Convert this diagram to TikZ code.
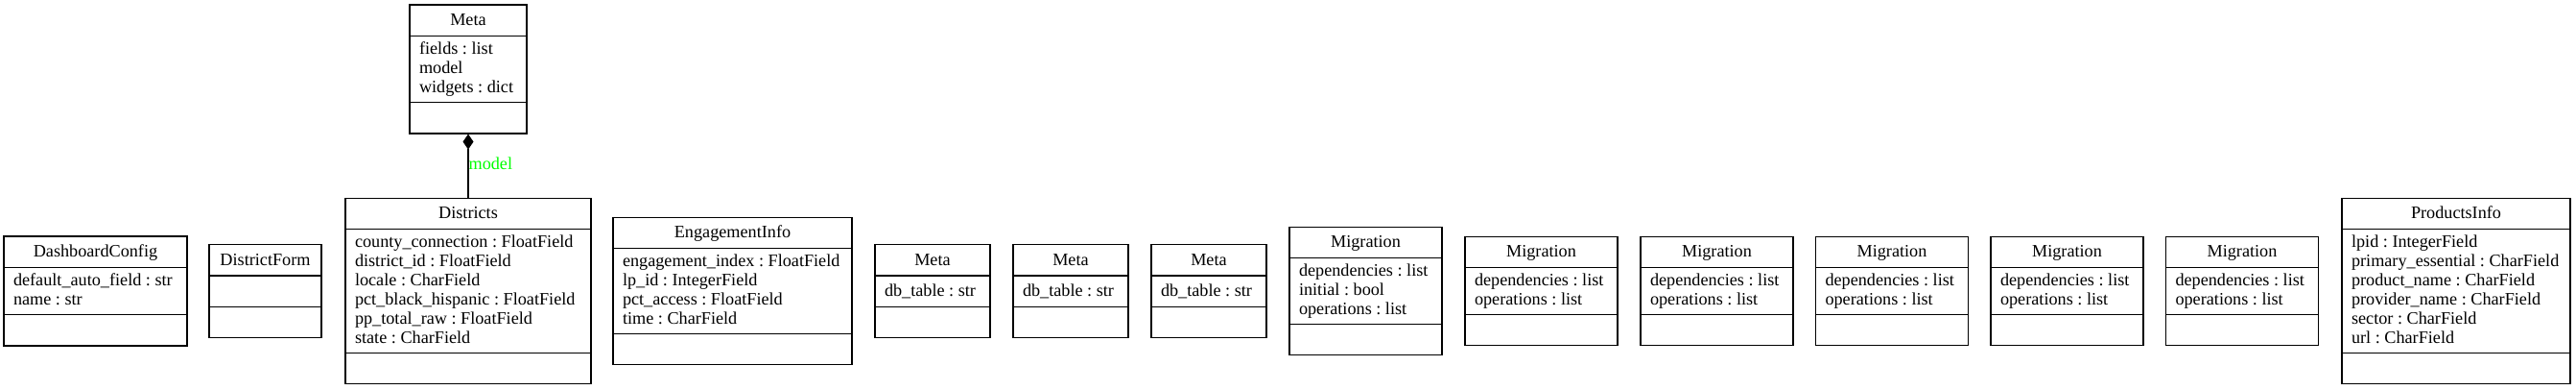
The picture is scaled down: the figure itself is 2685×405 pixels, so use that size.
\documentclass[tikz,border=0pt]{standalone}
\usepackage{fontspec}
\setmainfont{Liberation Serif}
\usetikzlibrary{shapes.multipart,arrows.meta}
\newcommand\classfont{\fontsize{18.2}{20}\selectfont\frenchspacing
	\setbox\strutbox\hbox{\vrule height15.5pt depth4.5pt width0pt}}
\newcommand\classtitle[2]{\makebox[#1pt]{#2}\ignorespaces}
\begin{document}
\begin{tikzpicture}
		[x=1pt, y=1pt,
		umlclass/.style={draw, line width=1.2pt, rectangle split,
			rectangle split parts=3, rectangle split part align={center,left,left},
			inner xsep=10pt, inner ysep=5.5pt, align=left, font=\classfont,
			execute at begin node=\strut, execute at end node=\strut}]
		\useasboundingbox (0,0) rectangle (2685,-405);
		\node[umlclass] (meta) at (488,-72) {\classtitle{102}{Meta}%
			\nodepart{two} fields : list\\ model\\ widgets : dict%
			\nodepart{three}};
		\node[umlclass] (dashconfig) at (99.5,-303) {\classtitle{171}{DashboardConfig}%
			\nodepart{two} default\_auto\_field : str\\ name : str%
			\nodepart{three}};
		\node[umlclass] (districtform) at (276.5,-303) {\classtitle{97}{DistrictForm}%
			\nodepart{two}%
			\nodepart{three}};
		\node[umlclass] (districts) at (488,-303) {\classtitle{236}{Districts}%
			\nodepart{two} county\_connection : FloatField\\ district\_id : FloatField\\
			locale : CharField\\ pct\_black\_hispanic : FloatField\\
			pp\_total\_raw : FloatField\\ state : CharField%
			\nodepart{three}};
		\node[umlclass] (engagement) at (763.5,-303) {\classtitle{229}{EngagementInfo}%
			\nodepart{two} engagement\_index : FloatField\\ lp\_id : IntegerField\\
			pct\_access : FloatField\\ time : CharField%
			\nodepart{three}};
		\node[umlclass] (metaA) at (972,-303) {\classtitle{100}{Meta}%
			\nodepart{two} db\_table : str%
			\nodepart{three}};
		\node[umlclass] (metaB) at (1116,-303) {\classtitle{100}{Meta}%
			\nodepart{two} db\_table : str%
			\nodepart{three}};
		\node[umlclass] (metaC) at (1260,-303) {\classtitle{100}{Meta}%
			\nodepart{two} db\_table : str%
			\nodepart{three}};
		\node[umlclass] (migA) at (1423.5,-303) {\classtitle{139}{Migration}%
			\nodepart{two} dependencies : list\\ initial : bool\\ operations : list%
			\nodepart{three}};
		\node[umlclass] (migB) at (1606.5,-303) {\classtitle{139}{Migration}%
			\nodepart{two} dependencies : list\\ operations : list%
			\nodepart{three}};
		\node[umlclass] (migC) at (1789.5,-303) {\classtitle{139}{Migration}%
			\nodepart{two} dependencies : list\\ operations : list%
			\nodepart{three}};
		\node[umlclass] (migD) at (1972,-303) {\classtitle{139}{Migration}%
			\nodepart{two} dependencies : list\\ operations : list%
			\nodepart{three}};
		\node[umlclass] (migE) at (2154.5,-303) {\classtitle{139}{Migration}%
			\nodepart{two} dependencies : list\\ operations : list%
			\nodepart{three}};
		\node[umlclass] (migF) at (2337,-303) {\classtitle{139}{Migration}%
			\nodepart{two} dependencies : list\\ operations : list%
			\nodepart{three}};
		\node[umlclass] (products) at (2560,-303) {\classtitle{218}{ProductsInfo}%
			\nodepart{two} lpid : IntegerField\\ primary\_essential : CharField\\
			product\_name : CharField\\ provider\_name : CharField\\
			sector : CharField\\ url : CharField%
			\nodepart{three}};
		\draw[line width=1.2pt, {Diamond[length=16pt,width=11pt]}-] (meta) -- (districts)
			node[pos=0.565, anchor=base west, inner sep=0pt, text=green, font=\classfont] {model};
	\end{tikzpicture}
\end{document}
